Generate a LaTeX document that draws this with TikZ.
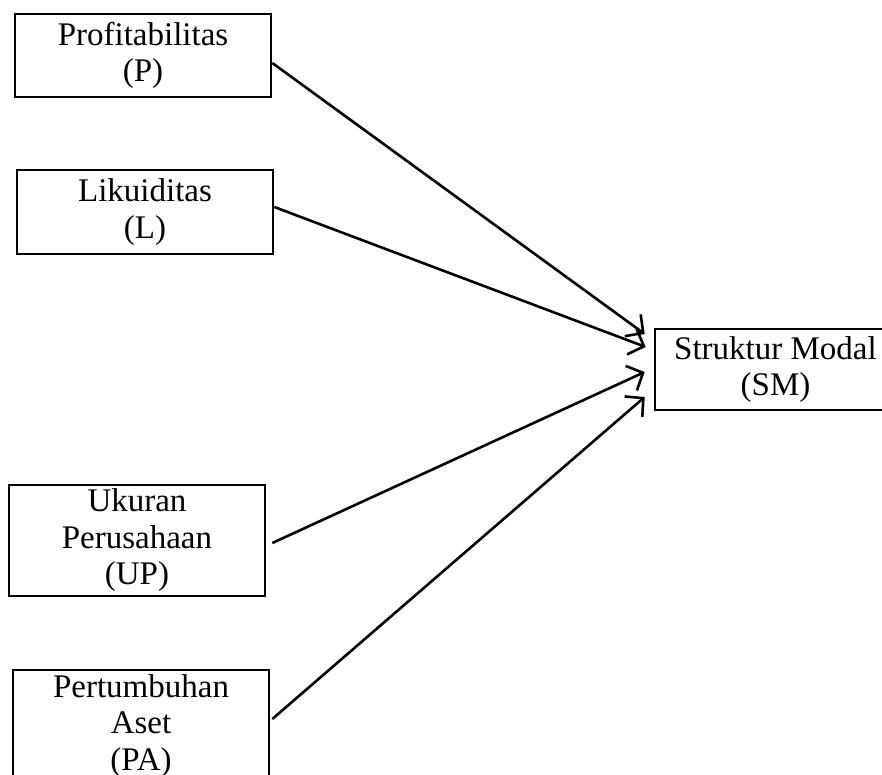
\documentclass[tikz,border=0pt]{standalone}
\usepackage{fontspec}
\setmainfont{Liberation Serif}
\usetikzlibrary{arrows.meta,calc}
\tikzset{
  varbox/.style={draw, line width=2.6pt, rectangle, inner sep=0pt, align=center,
    font=\fontsize{33}{36.5}\selectfont, minimum width=256pt},
  link/.style={line width=2.6pt, -{Straight Barb[length=13pt,width=27pt,line width=2.6pt]}}
}
\begin{document}
\begin{tikzpicture}[x=1pt,y=-1pt]
\useasboundingbox (0,0) rectangle (882,775);
\clip (0,0) rectangle (882,775);
\node[varbox, minimum height=83pt] (P) at (143,55.5) {Profitabilitas\\(P)};
\node[varbox, minimum height=84pt] (L) at (145,212) {Likuiditas\\(L)};
\node[varbox, minimum height=111pt] (UP) at (137,540.5) {Ukuran\\Perusahaan\\(UP)};
\node[varbox, minimum height=112pt] (PA) at (141,726) {Pertumbuhan\\Aset\\(PA)};
\node[varbox, minimum width=241pt, minimum height=81pt] (SM) at (775.5,369.5) {Struktur Modal\\(SM)};
\draw[link] ($(P.east)+(0,7.5)$) -- ($(SM.west)+(-9,-35.5)$);
\draw[link] ($(L.east)+(0,-5)$) -- ($(SM.west)+(-8,-22.5)$);
\draw[link] ($(UP.east)+(6,2.5)$) -- ($(SM.west)+(-9,2.5)$);
\draw[link] ($(PA.east)+(2,-7)$) -- ($(SM.west)+(-9,27.5)$);
\end{tikzpicture}
\end{document}
